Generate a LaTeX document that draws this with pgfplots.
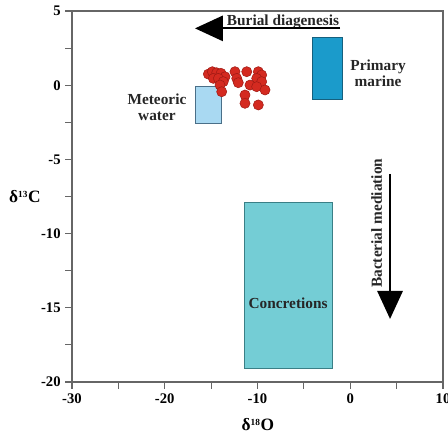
\documentclass[border=0pt]{standalone}
\usepackage{fontspec}
\setmainfont{Liberation Serif}
\usepackage{pgfplots}
\pgfplotsset{compat=1.18}
\usetikzlibrary{arrows.meta}
\definecolor{concfill}{HTML}{74CDD5}
\definecolor{concedge}{HTML}{3A7F86}
\definecolor{marfill}{HTML}{1B9BCB}
\definecolor{maredge}{HTML}{15607E}
\definecolor{metfill}{HTML}{A9D9F2}
\definecolor{metedge}{HTML}{4A6F88}
\definecolor{ptfill}{HTML}{D42A20}
\definecolor{ptedge}{HTML}{A01A14}
\definecolor{axgray}{HTML}{666666}
\begin{document}
\begin{tikzpicture}
\begin{axis}[
  scale only axis, width=278.25pt, height=278.25pt,
  xmin=-30, xmax=10, ymin=-20, ymax=5,
  axis line style={axgray, line width=0.8pt},
  tick style={axgray, line width=0.8pt},
  tick pos=left, tick align=outside,
  major tick length=5pt, minor tick length=5pt,
  xtick={-30,-20,-10,0,10}, minor xtick={-25,-15,-5,5},
  ytick={-20,-15,-10,-5,0,5}, minor ytick={-17.5,-12.5,-7.5,-2.5,2.5},
  /pgf/number format/assume math mode=true,
  ticklabel style={font=\fontsize{11}{13}\selectfont\bfseries},
  xlabel={\bfseries\fontsize{13}{15}\selectfont δ\textsuperscript{\fontsize{7}{8}\selectfont 18}O},
  ylabel={\bfseries\fontsize{13}{15}\selectfont δ\textsuperscript{\fontsize{7}{8}\selectfont 13}C},
  every axis x label/.style={at={(axis description cs:0.501,-0.116)}, anchor=center},
  every axis y label/.style={at={(axis description cs:-0.127,0.499)}, anchor=center, rotate=0},
  clip=false,
]
% boxes
\draw[fill=concfill, draw=concedge, line width=0.6pt] (axis cs:-11.45,-19.06) rectangle (axis cs:-1.9,-7.87);
\draw[fill=marfill, draw=maredge, line width=0.6pt] (axis cs:-4.09,-0.93) rectangle (axis cs:-0.86,3.2);
\draw[fill=metfill, draw=metedge, line width=0.6pt] (axis cs:-16.66,-2.57) rectangle (axis cs:-13.94,-0.05);
% data points
\addplot[only marks, mark=*, mark size=3.8pt, mark options={fill=ptfill, draw=ptedge, line width=0.4pt}] coordinates {
(-15.30,0.75) (-14.87,0.91) (-14.40,0.84) (-13.93,0.80) (-13.50,0.57)
(-14.76,0.46) (-14.22,0.46) (-13.69,0.24) (-14.04,0.01) (-13.86,-0.44)
(-12.43,0.91) (-11.16,0.91) (-12.24,0.46) (-12.07,0.17)
(-9.91,0.91) (-9.55,0.69) (-10.09,0.46) (-9.55,0.24) (-10.81,0.01)
(-10.09,-0.10) (-9.19,-0.32) (-11.35,-0.66) (-11.35,-1.22) (-9.91,-1.33)
};
% labels
\node[font=\fontsize{11.5}{13}\selectfont\bfseries, align=center, text=black!85] at (axis cs:3.0,0.82) {Primary\\[-1pt]marine};
\node[font=\fontsize{11.5}{13}\selectfont\bfseries, align=center, text=black!85] at (axis cs:-20.84,-1.5) {Meteoric\\[-1pt]water};
\node[font=\fontsize{11.5}{13}\selectfont\bfseries, text=black!85] at (axis cs:-6.7,-14.68) {Concretions};
\node[font=\fontsize{11.5}{13}\selectfont\bfseries, text=black!85] at (axis cs:-7.25,4.29) {Burial diagenesis};
\node[font=\fontsize{11.5}{13}\selectfont\bfseries, text=black!85, rotate=90] at (axis cs:2.85,-9.3) {Bacterial mediation};
% arrows
\draw[line width=1.5pt, -{Triangle[length=21pt,width=19pt]}] (axis cs:-1.1,3.83) -- (axis cs:-16.74,3.83);
\draw[line width=1.5pt, -{Triangle[length=21pt,width=19pt]}] (axis cs:4.29,-5.98) -- (axis cs:4.29,-15.75);
\end{axis}
\pgfresetboundingbox
\useasboundingbox (-54pt,-41.25pt) rectangle (282pt,286.5pt);
\end{tikzpicture}
\end{document}
